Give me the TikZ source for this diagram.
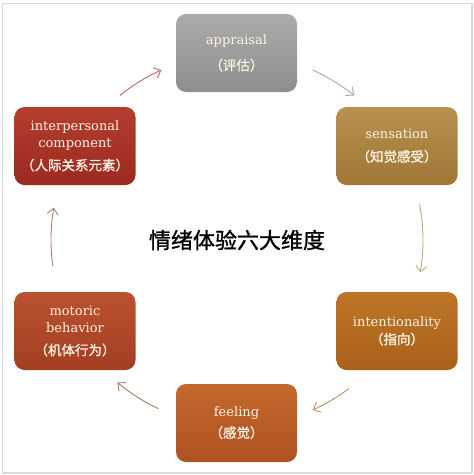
\documentclass[tikz,border=0pt]{standalone}
\usepackage{fontspec}
\setmainfont{DejaVu Serif}
\newfontfamily\cjk[AutoFakeBold=1.2]{Noto Sans CJK SC}
\usetikzlibrary{arrows.meta,calc}
\definecolor{appT}{HTML}{ABABAB}\definecolor{appB}{HTML}{8E8E8E}
\definecolor{senT}{HTML}{B8924E}\definecolor{senB}{HTML}{A07636}
\definecolor{intT}{HTML}{BD7628}\definecolor{intB}{HTML}{A8601A}
\definecolor{feeT}{HTML}{C4682E}\definecolor{feeB}{HTML}{AE5220}
\definecolor{motT}{HTML}{BA5230}\definecolor{motB}{HTML}{A33E22}
\definecolor{ipcT}{HTML}{B43E2E}\definecolor{ipcB}{HTML}{9C2A20}
\definecolor{txt}{HTML}{FBF3E6}
\definecolor{ar1}{HTML}{A8A8A8}
\definecolor{ar2}{HTML}{C4A878}
\definecolor{ar3}{HTML}{B89064}
\definecolor{ar4}{HTML}{A87A62}
\definecolor{ar5}{HTML}{A88272}
\definecolor{ar6}{HTML}{B06A62}
\newcommand{\zh}[1]{{\cjk\bfseries\fontsize{13.5}{15}\selectfont #1}}
\tikzset{
  box/.style={rounded corners=10pt, minimum width=121pt, minimum height=78pt,
    text=txt, align=center, inner sep=0pt,
    font=\fontsize{13}{17}\selectfont},
  arr/.style={line width=0.9pt, -{Straight Barb[length=6pt,width=11pt]}},
  frame/.style={draw=black!15, line width=1.2pt}
}
\begin{document}
\begin{tikzpicture}[x=1pt,y=1pt]
\useasboundingbox (0,0) rectangle (474,-475);
\draw[frame] (2.5,-3.5) rectangle (472,-473);
\coordinate (C) at (237,-240);
\node[box, top color=appT, bottom color=appB] (app) at (236.5,-53) {appraisal\\[9pt]\zh{（评估）}};
\node[box, top color=senT, bottom color=senB] (sen) at (397,-146) {sensation\\[6pt]\zh{（知觉感受）}};
\node[box, top color=intT, bottom color=intB] (int) at (397,-331) {intentionality\\[1pt]\zh{（指向）}};
\node[box, top color=feeT, bottom color=feeB] (fee) at (236.5,-423) {feeling\\[4pt]\zh{（感觉）}};
\node[box, top color=motT, bottom color=motB] (mot) at (75,-331) {motoric\\behavior\\[6pt]\zh{（机体行为）}};
\node[box, top color=ipcT, bottom color=ipcB] (ipc) at (75,-146) {interpersonal\\component\\[6pt]\zh{（人际关系元素）}};
\node (title) at (237,-240) {\cjk\bfseries\fontsize{22}{26}\selectfont 情绪体验六大维度};
\coordinate (s1) at ($(C)+(66:186)$);
\coordinate (s2) at ($(C)+(11:186)$);
\coordinate (s3) at ($(C)+(-53:186)$);
\coordinate (s4) at ($(C)+(-115:186)$);
\coordinate (s5) at ($(C)+(188:186)$);
\coordinate (s6) at ($(C)+(129:186)$);
\draw[arr, ar1] (s1) arc[start angle=66, end angle=51, radius=186];
\draw[arr, ar2] (s2) arc[start angle=11, end angle=-10, radius=186];
\draw[arr, ar3] (s3) arc[start angle=-53, end angle=-66, radius=186];
\draw[arr, ar4] (s4) arc[start angle=-115, end angle=-130, radius=186];
\draw[arr, ar5] (s5) arc[start angle=188, end angle=170, radius=186];
\draw[arr, ar6] (s6) arc[start angle=129, end angle=114, radius=186];
\end{tikzpicture}
\end{document}
